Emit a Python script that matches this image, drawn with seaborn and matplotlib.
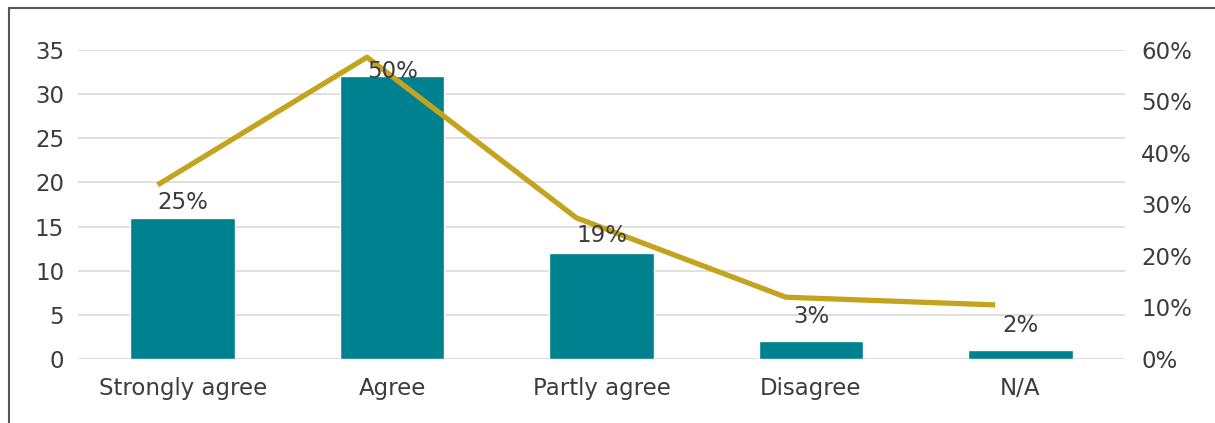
import numpy as np
import pandas as pd
import matplotlib
matplotlib.use('Agg')
import matplotlib.pyplot as plt
from matplotlib.patches import Rectangle
import seaborn as sns

categories = ["Strongly agree", "Agree", "Partly agree", "Disagree", "N/A"]
counts = [16, 32, 12, 2, 1]
line_pct = [33.8, 58.6, 27.4, 12.0, 10.5]
pct_labels = ["25%", "50%", "19%", "3%", "2%"]
left_ticks = [0, 5, 10, 15, 20, 25, 30, 35]
right_ticks = [0, 10, 20, 30, 40, 50, 60]

BAR = "#00818f"
LINE = "#c4a41f"
TEXT = "#3c3c3c"
GRID = "#dcdcdc"
FS = 16.5

sns.set_theme(style="white")
plt.rcParams['font.family'] = ['DejaVu Sans']

df = pd.DataFrame({"cat": categories, "n": counts})
total = sum(counts)
pct_true = [c / total * 100 for c in counts]

fig = plt.figure(figsize=(12.15, 4.23), dpi=100)
ax = fig.add_axes([0.0642, 0.1513, 0.8618, 0.7305])

for t in left_ticks:
    ax.axhline(t, color=GRID, lw=1.3, zorder=0)

sns.barplot(data=df, x="cat", y="n", color=BAR, width=0.5, saturation=1,
            ax=ax, zorder=2)
ax.set_xlim(-0.5, len(categories) - 0.5)
ax.set_ylim(0, 35)
ax.set_yticks(left_ticks)
ax.set_xlabel("")
ax.set_ylabel("")
for s in ax.spines.values():
    s.set_visible(False)
ax.tick_params(axis="both", length=0, labelsize=FS, colors=TEXT)
ax.tick_params(axis="y", pad=10)
ax.tick_params(axis="x", pad=13)

ax2 = ax.twinx()
ax2.set_ylim(0, 60)
ax2.set_yticks(right_ticks)
ax2.set_yticklabels([f"{t}%" for t in right_ticks])
xpos = np.arange(len(categories)) - 0.12
sns.lineplot(x=xpos, y=line_pct, ax=ax2, color=LINE, lw=3.8,
             solid_joinstyle="round", solid_capstyle="butt", zorder=3)
for s in ax2.spines.values():
    s.set_visible(False)
ax2.tick_params(axis="y", length=0, labelsize=FS, colors=TEXT, pad=11.5)
ax2.grid(False)

for i, (p, lab) in enumerate(zip(pct_true, pct_labels)):
    ax2.annotate(lab, (i, p), xytext=(0, 18.5), textcoords="offset points",
                 ha="center", va="center", fontsize=FS, color=TEXT, zorder=4)

fig.patches.append(Rectangle((9 / 1215, -0.1), 1.2, 1.1 - 8 / 423,
                             transform=fig.transFigure, fill=False,
                             edgecolor="#555555", lw=1.5))

fig.savefig("out.png", dpi=100)
